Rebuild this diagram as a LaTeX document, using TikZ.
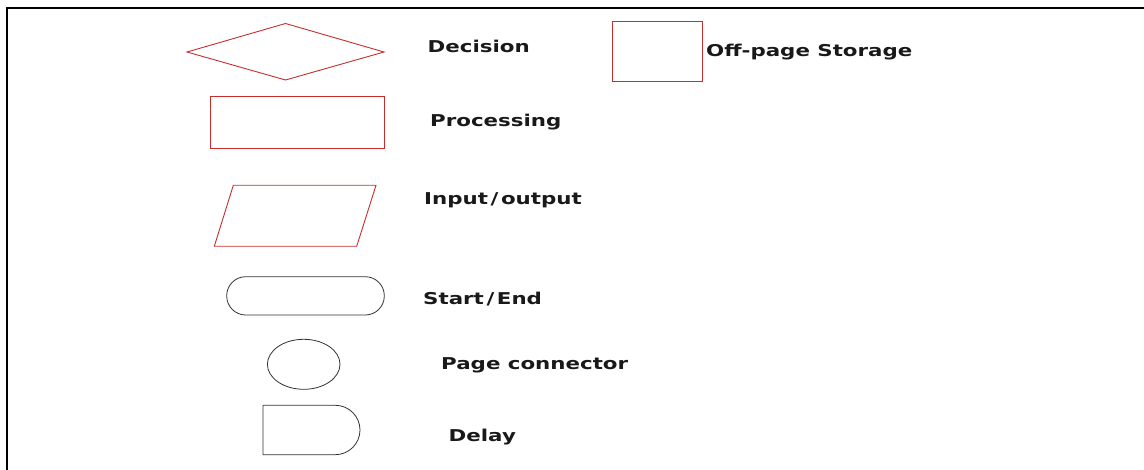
\documentclass[tikz,border=0pt]{standalone}
\usepackage{fontspec}
\newfontfamily\legendfont{DejaVu Sans}
\definecolor{symred}{RGB}{200,45,45}
\definecolor{symgray}{RGB}{50,50,50}
\definecolor{lbltext}{RGB}{25,25,25}
\newcommand{\symlabel}[1]{\scalebox{1.31}[1]{\legendfont\bfseries\fontsize{16.3}{19}\selectfont #1}}

\begin{document}
\begin{tikzpicture}[x=1pt, y=-1pt,
	redsym/.style={draw=symred, line width=0.9pt},
	graysym/.style={draw=symgray, line width=0.8pt},
	lbl/.style={anchor=base west, inner sep=0pt, text=lbltext}]
	\useasboundingbox (0,0) rectangle (1144,470);
	% frame
	\draw[line width=2pt] (7,470) -- (7,8) -- (1144,8);
	% symbols
	\draw[redsym] (187,52) -- (285.5,23.5) -- (384,52) -- (285.5,80) -- cycle;
	\draw[redsym] (210,96.3) rectangle (384,148);
	\draw[redsym] (612.7,21) rectangle (702.7,81);
	\draw[redsym] (233.3,185.3) -- (376,185.3) -- (356.7,246.3) -- (214.3,246.3) -- cycle;
	\draw[graysym, rounded corners=19pt] (226.7,276.7) rectangle (384.3,315);
	\draw[graysym] (303.7,364.3) ellipse [x radius=36.3, y radius=25];
	\draw[graysym] (335.3,405.3) -- (263,405.3) -- (263,454.7) -- (335.3,454.7) arc[start angle=90, end angle=-90, radius=24.7];
	% labels
	\node[lbl] (decision) at (427.5,52.7) {\symlabel{Decision}};
	\node[lbl] (offpage) at (706,57) {\symlabel{Off-page Storage}};
	\node[lbl] (processing) at (430,127) {\symlabel{Processing}};
	\node[lbl] (inout) at (424,205) {\symlabel{Input\kern2pt/\kern2pt output}};
	\node[lbl] (startend) at (423,304.3) {\symlabel{Start\kern2pt/\kern2pt End}};
	\node[lbl] (pageconn) at (441,370) {\symlabel{Page connector}};
	\node[lbl] (delay) at (448.5,442) {\symlabel{Delay}};
\end{tikzpicture}
\end{document}
